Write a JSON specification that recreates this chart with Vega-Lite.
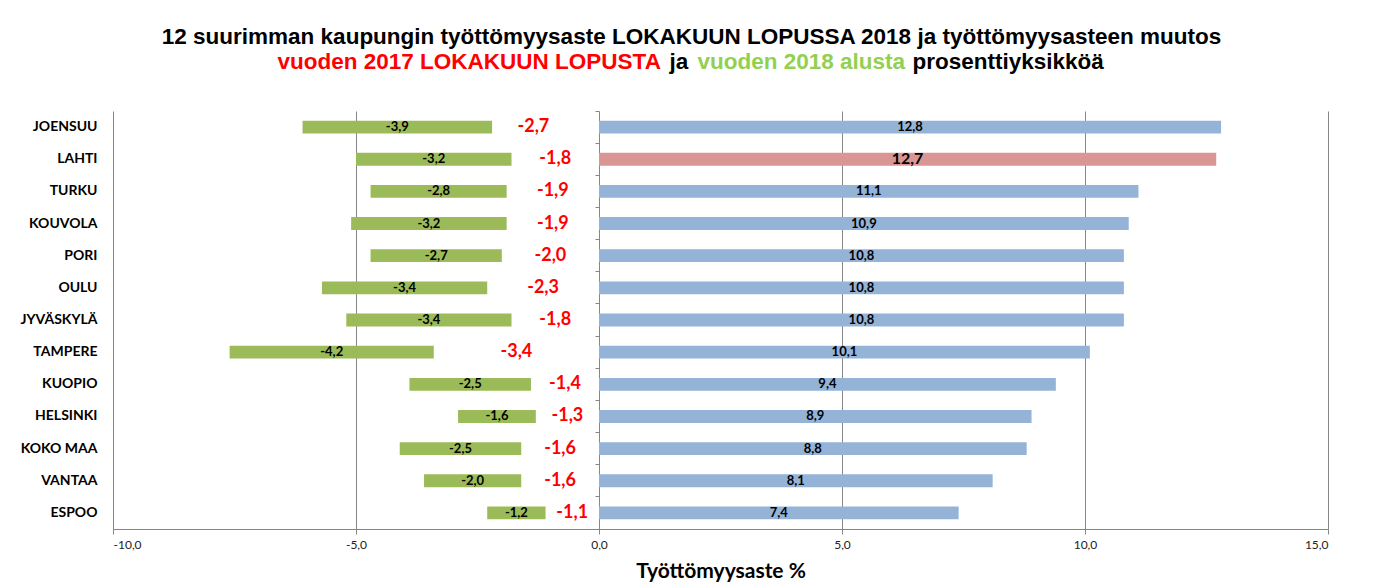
{
  "$schema": "https://vega.github.io/schema/vega-lite/v6.json",
  "width": 1215,
  "height": 418,
  "autosize": {"type": "none"},
  "padding": {"left": 113, "top": 111, "right": 46, "bottom": 57},
  "background": "white",
  "config": {
    "view": {"stroke": null},
    "locale": {"number": {"decimal": ",", "thousands": " ", "grouping": [3], "currency": ["", " €"], "minus": "-"}}
  },
  "data": {
    "values": [
      {"kaupunki": "JOENSUU", "aste": 12.8, "muutos2017": -2.7, "muutosAlusta": -3.9, "alku": -2.2},
      {"kaupunki": "LAHTI", "aste": 12.7, "muutos2017": -1.8, "muutosAlusta": -3.2, "alku": -1.8},
      {"kaupunki": "TURKU", "aste": 11.1, "muutos2017": -1.9, "muutosAlusta": -2.8, "alku": -1.9},
      {"kaupunki": "KOUVOLA", "aste": 10.9, "muutos2017": -1.9, "muutosAlusta": -3.2, "alku": -1.9},
      {"kaupunki": "PORI", "aste": 10.8, "muutos2017": -2.0, "muutosAlusta": -2.7, "alku": -2.0},
      {"kaupunki": "OULU", "aste": 10.8, "muutos2017": -2.3, "muutosAlusta": -3.4, "alku": -2.3},
      {"kaupunki": "JYVÄSKYLÄ", "aste": 10.8, "muutos2017": -1.8, "muutosAlusta": -3.4, "alku": -1.8},
      {"kaupunki": "TAMPERE", "aste": 10.1, "muutos2017": -3.4, "muutosAlusta": -4.2, "alku": -3.4},
      {"kaupunki": "KUOPIO", "aste": 9.4, "muutos2017": -1.4, "muutosAlusta": -2.5, "alku": -1.4},
      {"kaupunki": "HELSINKI", "aste": 8.9, "muutos2017": -1.3, "muutosAlusta": -1.6, "alku": -1.3},
      {"kaupunki": "KOKO MAA", "aste": 8.8, "muutos2017": -1.6, "muutosAlusta": -2.5, "alku": -1.6},
      {"kaupunki": "VANTAA", "aste": 8.1, "muutos2017": -1.6, "muutosAlusta": -2.0, "alku": -1.6},
      {"kaupunki": "ESPOO", "aste": 7.4, "muutos2017": -1.1, "muutosAlusta": -1.2, "alku": -1.1}
    ]
  },
  "transform": [
    {"calculate": "datum.alku + datum.muutosAlusta", "as": "loppu"},
    {"calculate": "datum.alku + datum.muutosAlusta / 2", "as": "vihreaKeski"},
    {"calculate": "datum.muutos2017 / 2", "as": "punainenKeski"},
    {"calculate": "datum.aste / 2", "as": "sininenKeski"}
  ],
  "layer": [
    {
      "mark": {"type": "bar", "color": "#9BBB59", "height": {"band": 0.4}},
      "encoding": {
        "y": {
          "field": "kaupunki",
          "type": "nominal",
          "sort": null,
          "scale": {"paddingInner": 0, "paddingOuter": 0},
          "axis": {
            "orient": "left",
            "domain": false,
            "ticks": false,
            "labelFont": "Lato",
            "labelFontSize": 14,
            "labelFontWeight": "bold",
            "labelColor": "#000000",
            "labelPadding": 16,
            "title": "12 suurimman kaupungin työttömyysaste LOKAKUUN LOPUSSA 2018  ja työttömyysasteen muutos",
            "titleAngle": 0,
            "titleAlign": "center",
            "titleBaseline": "alphabetic",
            "titleX": 578,
            "titleY": -68,
            "titleFont": "Liberation Sans",
            "titleFontSize": 22.5,
            "titleFontWeight": "bold",
            "titleColor": "#000000"
          }
        },
        "x": {
          "field": "alku", "type": "quantitative",
          "scale": {"domain": [-10, 15], "nice": false, "zero": false},
          "axis": {"orient": "top", "grid": false, "domain": false, "ticks": false, "labels": false,
            "title": "vuoden 2017 LOKAKUUN LOPUSTA", "titleColor": "#FF0000",
            "titleFont": "Liberation Sans", "titleFontSize": 22.5, "titleFontWeight": "bold",
            "titleAngle": 0, "titleAlign": "left", "titleBaseline": "alphabetic", "titleX": 164, "titleY": -43}
        },
        "x2": {"field": "loppu"}
      }
    },
    {
      "mark": {"type": "text", "font": "Lato", "fontSize": 13, "fontWeight": "bold", "color": "#000000", "align": "center", "baseline": "middle"},
      "encoding": {
        "y": {"field": "kaupunki", "type": "nominal", "sort": null, "axis": null},
        "x": {
          "field": "vihreaKeski", "type": "quantitative",
          "scale": {"domain": [-10, 15], "nice": false, "zero": false},
          "axis": {"orient": "top", "grid": false, "domain": false, "ticks": false, "labels": false,
            "title": "ja", "titleColor": "#000000",
            "titleFont": "Liberation Sans", "titleFontSize": 22.5, "titleFontWeight": "bold",
            "titleAngle": 0, "titleAlign": "left", "titleBaseline": "alphabetic", "titleX": 556, "titleY": -43}
        },
        "text": {"field": "muutosAlusta", "type": "quantitative", "format": ".1f"}
      }
    },
    {
      "mark": {"type": "text", "font": "Lato", "fontSize": 18, "fontWeight": "bold", "color": "#FF0000", "align": "center", "baseline": "middle"},
      "encoding": {
        "y": {"field": "kaupunki", "type": "nominal", "sort": null, "axis": null},
        "x": {
          "field": "punainenKeski", "type": "quantitative",
          "scale": {"domain": [-10, 15], "nice": false, "zero": false},
          "axis": {"orient": "top", "grid": false, "domain": false, "ticks": false, "labels": false,
            "title": "vuoden 2018 alusta", "titleColor": "#92D050",
            "titleFont": "Liberation Sans", "titleFontSize": 22.5, "titleFontWeight": "bold",
            "titleAngle": 0, "titleAlign": "left", "titleBaseline": "alphabetic", "titleX": 584, "titleY": -43}
        },
        "text": {"field": "muutos2017", "type": "quantitative", "format": ".1f"}
      }
    },
    {
      "mark": {"type": "bar", "height": {"band": 0.4}},
      "encoding": {
        "y": {
          "field": "kaupunki", "type": "nominal", "sort": null,
          "axis": {
            "orient": "left",
            "offset": -486,
            "bandPosition": 0,
            "domain": false,
            "labels": false,
            "ticks": true,
            "tickSize": 4,
            "tickColor": "#868686",
            "grid": false,
            "title": null
          }
        },
        "x": {
          "field": "aste", "type": "quantitative",
          "scale": {"domain": [-10, 15], "nice": false, "zero": false},
          "axis": {
            "orient": "bottom",
            "values": [-10, -5, 0, 5, 10, 15],
            "format": ".1f",
            "grid": true,
            "gridColor": "#868686",
            "gridOpacity": 1,
            "domainColor": "#868686",
            "tickColor": "#868686",
            "tickSize": 5,
            "labelFont": "Lato",
            "labelFontSize": 12,
            "labelColor": "#222222",
            "labelPadding": 5,
            "title": "Työttömyysaste %",
            "titleFont": "Lato",
            "titleFontSize": 21,
            "titleFontWeight": "bold",
            "titleColor": "#000000",
            "titlePadding": 10
          }
        },
        "x2": {"datum": 0},
        "color": {
          "condition": {"test": "datum.kaupunki === 'LAHTI'", "value": "#D99694"},
          "value": "#95B3D7"
        }
      }
    },
    {
      "mark": {"type": "text", "font": "Lato", "fontWeight": "bold", "color": "#000000", "align": "center", "baseline": "middle"},
      "encoding": {
        "y": {"field": "kaupunki", "type": "nominal", "sort": null, "axis": null},
        "x": {
          "field": "sininenKeski", "type": "quantitative",
          "scale": {"domain": [-10, 15], "nice": false, "zero": false},
          "axis": {"orient": "top", "grid": false, "domain": false, "ticks": false, "labels": false,
            "title": "prosenttiyksikköä", "titleColor": "#000000",
            "titleFont": "Liberation Sans", "titleFontSize": 22.5, "titleFontWeight": "bold",
            "titleAngle": 0, "titleAlign": "left", "titleBaseline": "alphabetic", "titleX": 799, "titleY": -43}
        },
        "text": {"field": "aste", "type": "quantitative", "format": ".1f"},
        "size": {
          "condition": {"test": "datum.kaupunki === 'LAHTI'", "value": 16},
          "value": 13
        }
      }
    }
  ],
  "resolve": {"axis": {"x": "independent", "y": "independent"}}
}
